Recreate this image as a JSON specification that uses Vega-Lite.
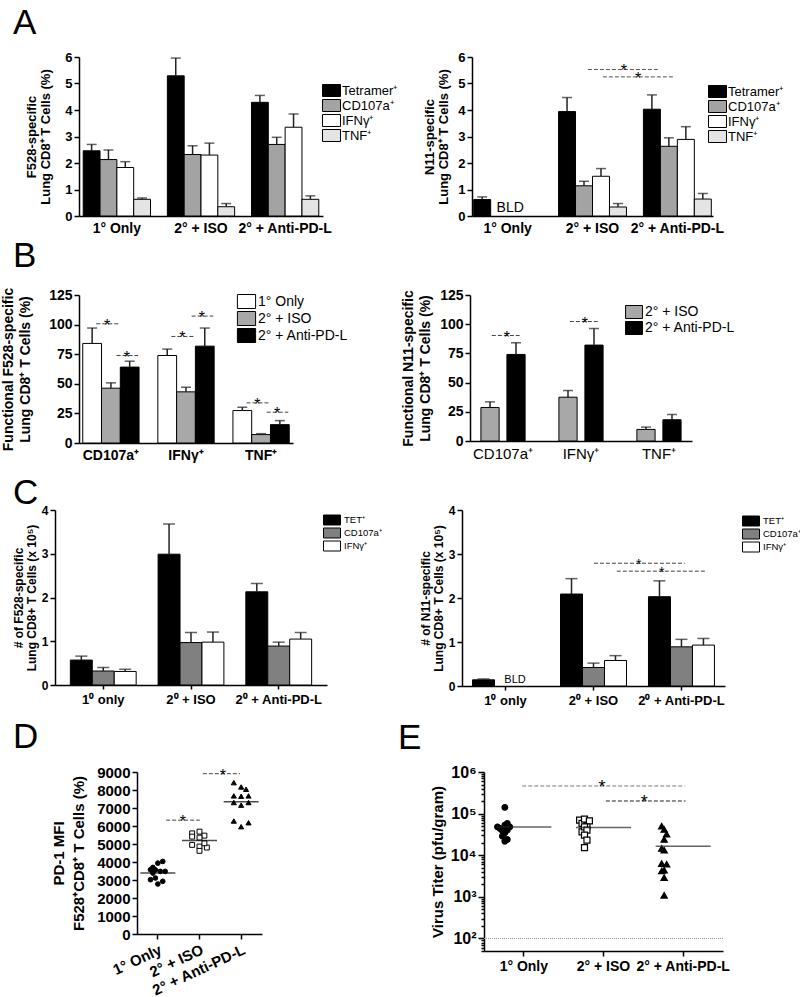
{
  "$schema": "https://vega.github.io/schema/vega-lite/v6.json",
  "background": "white",
  "padding": {"left": 0, "top": 6, "right": 0, "bottom": 0},
  "spacing": 0,
  "resolve": {"scale": {"fill": "independent", "shape": "independent", "size": "independent"}, "legend": {"fill": "independent"}},
  "datasets": {
    "aL": [
      {"group": "1° Only", "series": "Tetramer⁺", "slot": "1° Only|Tetramer⁺", "value": 2.46, "upper": 2.70},
      {"group": "1° Only", "series": "CD107a⁺", "slot": "1° Only|CD107a⁺", "value": 2.13, "upper": 2.49},
      {"group": "1° Only", "series": "IFNγ⁺", "slot": "1° Only|IFNγ⁺", "value": 1.83, "upper": 2.05},
      {"group": "1° Only", "series": "TNF⁺", "slot": "1° Only|TNF⁺", "value": 0.63, "upper": 0.68},
      {"group": "2° + ISO", "series": "Tetramer⁺", "slot": "2° + ISO|Tetramer⁺", "value": 5.29, "upper": 5.96},
      {"group": "2° + ISO", "series": "CD107a⁺", "slot": "2° + ISO|CD107a⁺", "value": 2.32, "upper": 2.65},
      {"group": "2° + ISO", "series": "IFNγ⁺", "slot": "2° + ISO|IFNγ⁺", "value": 2.30, "upper": 2.75},
      {"group": "2° + ISO", "series": "TNF⁺", "slot": "2° + ISO|TNF⁺", "value": 0.35, "upper": 0.47},
      {"group": "2° + Anti-PD-L", "series": "Tetramer⁺", "slot": "2° + Anti-PD-L|Tetramer⁺", "value": 4.29, "upper": 4.55},
      {"group": "2° + Anti-PD-L", "series": "CD107a⁺", "slot": "2° + Anti-PD-L|CD107a⁺", "value": 2.70, "upper": 2.97},
      {"group": "2° + Anti-PD-L", "series": "IFNγ⁺", "slot": "2° + Anti-PD-L|IFNγ⁺", "value": 3.35, "upper": 3.85},
      {"group": "2° + Anti-PD-L", "series": "TNF⁺", "slot": "2° + Anti-PD-L|TNF⁺", "value": 0.63, "upper": 0.76}
    ],
    "aR": [
      {"group": "1° Only", "series": "Tetramer⁺", "slot": "1° Only|Tetramer⁺", "value": 0.62, "upper": 0.72},
      {"group": "2° + ISO", "series": "Tetramer⁺", "slot": "2° + ISO|Tetramer⁺", "value": 3.94, "upper": 4.47},
      {"group": "2° + ISO", "series": "CD107a⁺", "slot": "2° + ISO|CD107a⁺", "value": 1.14, "upper": 1.31},
      {"group": "2° + ISO", "series": "IFNγ⁺", "slot": "2° + ISO|IFNγ⁺", "value": 1.50, "upper": 1.79},
      {"group": "2° + ISO", "series": "TNF⁺", "slot": "2° + ISO|TNF⁺", "value": 0.34, "upper": 0.47},
      {"group": "2° + Anti-PD-L", "series": "Tetramer⁺", "slot": "2° + Anti-PD-L|Tetramer⁺", "value": 4.03, "upper": 4.57},
      {"group": "2° + Anti-PD-L", "series": "CD107a⁺", "slot": "2° + Anti-PD-L|CD107a⁺", "value": 2.63, "upper": 2.95},
      {"group": "2° + Anti-PD-L", "series": "IFNγ⁺", "slot": "2° + Anti-PD-L|IFNγ⁺", "value": 2.89, "upper": 3.37},
      {"group": "2° + Anti-PD-L", "series": "TNF⁺", "slot": "2° + Anti-PD-L|TNF⁺", "value": 0.64, "upper": 0.85}
    ],
    "aRnote": [{"at": "1° Only|IFNγ⁺", "note": "BLD"}],
    "aRsig1": [{"from": "2° + ISO|CD107a⁺", "to": "2° + Anti-PD-L|Tetramer⁺", "at": "2° + ISO|TNF⁺", "level": 5.53, "sig": "*"}],
    "aRsig2": [{"from": "2° + ISO|IFNγ⁺", "to": "2° + Anti-PD-L|CD107a⁺", "at": "gap2", "level": 5.25, "sig": "*"}],
    "bL": [
      {"cat": "CD107a⁺", "group": "1° Only", "slot": "CD107a⁺|1° Only", "value": 84.1, "upper": 97.1},
      {"cat": "CD107a⁺", "group": "2° + ISO", "slot": "CD107a⁺|2° + ISO", "value": 46.3, "upper": 50.8},
      {"cat": "CD107a⁺", "group": "2° + Anti-PD-L", "slot": "CD107a⁺|2° + Anti-PD-L", "value": 64.1, "upper": 69.1},
      {"cat": "IFNγ⁺", "group": "1° Only", "slot": "IFNγ⁺|1° Only", "value": 73.9, "upper": 79.3},
      {"cat": "IFNγ⁺", "group": "2° + ISO", "slot": "IFNγ⁺|2° + ISO", "value": 43.2, "upper": 47.1},
      {"cat": "IFNγ⁺", "group": "2° + Anti-PD-L", "slot": "IFNγ⁺|2° + Anti-PD-L", "value": 81.8, "upper": 97.1},
      {"cat": "TNF⁺", "group": "1° Only", "slot": "TNF⁺|1° Only", "value": 27.4, "upper": 30.2},
      {"cat": "TNF⁺", "group": "2° + ISO", "slot": "TNF⁺|2° + ISO", "value": 7.1, "upper": 7.9},
      {"cat": "TNF⁺", "group": "2° + Anti-PD-L", "slot": "TNF⁺|2° + Anti-PD-L", "value": 15.5, "upper": 18.9}
    ],
    "bLsigA": [
      {"from": "CD107a⁺|1° Only", "to": "CD107a⁺|2° + ISO", "level": 100.7, "sig": "*"},
      {"from": "IFNγ⁺|1° Only", "to": "IFNγ⁺|2° + ISO", "level": 90.0, "sig": "*"},
      {"from": "TNF⁺|1° Only", "to": "TNF⁺|2° + ISO", "level": 33.9, "sig": "*"}
    ],
    "bLsigB": [
      {"from": "CD107a⁺|2° + ISO", "to": "CD107a⁺|2° + Anti-PD-L", "level": 73.9, "sig": "*"},
      {"from": "IFNγ⁺|2° + ISO", "to": "IFNγ⁺|2° + Anti-PD-L", "level": 107.2, "sig": "*"},
      {"from": "TNF⁺|2° + ISO", "to": "TNF⁺|2° + Anti-PD-L", "level": 26.0, "sig": "*"}
    ],
    "bR": [
      {"cat": "CD107a⁺", "group": "2° + ISO", "slot": "CD107a⁺|2° + ISO", "value": 28.7, "upper": 33.5},
      {"cat": "CD107a⁺", "group": "2° + Anti-PD-L", "slot": "CD107a⁺|2° + Anti-PD-L", "value": 74.1, "upper": 84.1},
      {"cat": "IFNγ⁺", "group": "2° + ISO", "slot": "IFNγ⁺|2° + ISO", "value": 37.5, "upper": 43.2},
      {"cat": "IFNγ⁺", "group": "2° + Anti-PD-L", "slot": "IFNγ⁺|2° + Anti-PD-L", "value": 82.1, "upper": 96.3},
      {"cat": "TNF⁺", "group": "2° + ISO", "slot": "TNF⁺|2° + ISO", "value": 9.9, "upper": 11.9},
      {"cat": "TNF⁺", "group": "2° + Anti-PD-L", "slot": "TNF⁺|2° + Anti-PD-L", "value": 18.2, "upper": 22.7}
    ],
    "bRsig": [
      {"from": "CD107a⁺|2° + ISO", "to": "CD107a⁺|2° + Anti-PD-L", "level": 90.3, "sig": "*"},
      {"from": "IFNγ⁺|2° + ISO", "to": "IFNγ⁺|2° + Anti-PD-L", "level": 102.3, "sig": "*"}
    ],
    "cL": [
      {"group": "1⁰ only", "series": "TET⁺", "slot": "1⁰ only|TET⁺", "value": 0.57, "upper": 0.66},
      {"group": "1⁰ only", "series": "CD107a⁺", "slot": "1⁰ only|CD107a⁺", "value": 0.32, "upper": 0.40},
      {"group": "1⁰ only", "series": "IFNγ⁺", "slot": "1⁰ only|IFNγ⁺", "value": 0.31, "upper": 0.36},
      {"group": "2⁰ + ISO", "series": "TET⁺", "slot": "2⁰ + ISO|TET⁺", "value": 2.99, "upper": 3.68},
      {"group": "2⁰ + ISO", "series": "CD107a⁺", "slot": "2⁰ + ISO|CD107a⁺", "value": 0.97, "upper": 1.20},
      {"group": "2⁰ + ISO", "series": "IFNγ⁺", "slot": "2⁰ + ISO|IFNγ⁺", "value": 0.98, "upper": 1.21},
      {"group": "2⁰ + Anti-PD-L", "series": "TET⁺", "slot": "2⁰ + Anti-PD-L|TET⁺", "value": 2.13, "upper": 2.32},
      {"group": "2⁰ + Anti-PD-L", "series": "CD107a⁺", "slot": "2⁰ + Anti-PD-L|CD107a⁺", "value": 0.89, "upper": 0.98},
      {"group": "2⁰ + Anti-PD-L", "series": "IFNγ⁺", "slot": "2⁰ + Anti-PD-L|IFNγ⁺", "value": 1.05, "upper": 1.20}
    ],
    "cR": [
      {"group": "1⁰ only", "series": "TET⁺", "slot": "1⁰ only|TET⁺", "value": 0.14, "upper": 0.16},
      {"group": "2⁰ + ISO", "series": "TET⁺", "slot": "2⁰ + ISO|TET⁺", "value": 2.09, "upper": 2.44},
      {"group": "2⁰ + ISO", "series": "CD107a⁺", "slot": "2⁰ + ISO|CD107a⁺", "value": 0.42, "upper": 0.52},
      {"group": "2⁰ + ISO", "series": "IFNγ⁺", "slot": "2⁰ + ISO|IFNγ⁺", "value": 0.58, "upper": 0.69},
      {"group": "2⁰ + Anti-PD-L", "series": "TET⁺", "slot": "2⁰ + Anti-PD-L|TET⁺", "value": 2.03, "upper": 2.39},
      {"group": "2⁰ + Anti-PD-L", "series": "CD107a⁺", "slot": "2⁰ + Anti-PD-L|CD107a⁺", "value": 0.89, "upper": 1.06},
      {"group": "2⁰ + Anti-PD-L", "series": "IFNγ⁺", "slot": "2⁰ + Anti-PD-L|IFNγ⁺", "value": 0.93, "upper": 1.08}
    ],
    "cRnote": [{"at": "1⁰ only|CD107a⁺", "note": "BLD"}],
    "cRsig1": [{"from": "2⁰ + ISO|CD107a⁺", "to": "2⁰ + Anti-PD-L|CD107a⁺", "at": "gap2", "level": 2.79, "sig": "*"}],
    "cRsig2": [{"from": "2⁰ + ISO|IFNγ⁺", "to": "2⁰ + Anti-PD-L|IFNγ⁺", "at": "2⁰ + Anti-PD-L|TET⁺", "level": 2.61, "sig": "*"}],
    "dP": [
      {"group": "1° Only", "col": 2, "mfi": 4030},
      {"group": "1° Only", "col": 0, "mfi": 3936},
      {"group": "1° Only", "col": -2, "mfi": 3698},
      {"group": "1° Only", "col": -3, "mfi": 3571},
      {"group": "1° Only", "col": -1, "mfi": 3560},
      {"group": "1° Only", "col": 1, "mfi": 3478},
      {"group": "1° Only", "col": 3, "mfi": 3478},
      {"group": "1° Only", "col": -2, "mfi": 3384},
      {"group": "1° Only", "col": -3, "mfi": 3018},
      {"group": "1° Only", "col": -1, "mfi": 3110},
      {"group": "1° Only", "col": 2, "mfi": 2926},
      {"group": "1° Only", "col": 0, "mfi": 2778},
      {"group": "2° + ISO", "col": -3, "mfi": 5592},
      {"group": "2° + ISO", "col": 0, "mfi": 5686},
      {"group": "2° + ISO", "col": 2, "mfi": 5465},
      {"group": "2° + ISO", "col": -3, "mfi": 5410},
      {"group": "2° + ISO", "col": 0, "mfi": 5354},
      {"group": "2° + ISO", "col": -3, "mfi": 4951},
      {"group": "2° + ISO", "col": 0, "mfi": 4858},
      {"group": "2° + ISO", "col": 3, "mfi": 4802},
      {"group": "2° + ISO", "col": 0, "mfi": 4620},
      {"group": "2° + ISO", "col": 2, "mfi": 5040},
      {"group": "2° + Anti-PD-L", "col": -3, "mfi": 8408},
      {"group": "2° + Anti-PD-L", "col": 0, "mfi": 8170},
      {"group": "2° + Anti-PD-L", "col": 2, "mfi": 8040},
      {"group": "2° + Anti-PD-L", "col": -3, "mfi": 7673},
      {"group": "2° + Anti-PD-L", "col": 0, "mfi": 7650},
      {"group": "2° + Anti-PD-L", "col": 3, "mfi": 7673},
      {"group": "2° + Anti-PD-L", "col": -3, "mfi": 7303},
      {"group": "2° + Anti-PD-L", "col": 0, "mfi": 7158},
      {"group": "2° + Anti-PD-L", "col": 3, "mfi": 7303},
      {"group": "2° + Anti-PD-L", "col": -3, "mfi": 6276},
      {"group": "2° + Anti-PD-L", "col": 0, "mfi": 5962},
      {"group": "2° + Anti-PD-L", "col": 3, "mfi": 6182}
    ],
    "dM": [
      {"group": "1° Only", "median": 3386},
      {"group": "2° + ISO", "median": 5189},
      {"group": "2° + Anti-PD-L", "median": 7342}
    ],
    "dSig1": [{"from": "1° Only", "to": "2° + ISO", "level": 6325, "sig": "*"}],
    "dSig2": [{"from": "2° + ISO", "to": "2° + Anti-PD-L", "level": 8906, "sig": "*"}],
    "eP": [
      {"group": "1° Only", "col": 0, "titer": 141000},
      {"group": "1° Only", "col": -3, "titer": 48000},
      {"group": "1° Only", "col": -2, "titer": 44000},
      {"group": "1° Only", "col": -1, "titer": 38500},
      {"group": "1° Only", "col": 0, "titer": 52800},
      {"group": "1° Only", "col": 1, "titer": 58000},
      {"group": "1° Only", "col": 2, "titer": 48000},
      {"group": "1° Only", "col": 0, "titer": 34500},
      {"group": "1° Only", "col": 1, "titer": 40000},
      {"group": "1° Only", "col": -1, "titer": 28700},
      {"group": "1° Only", "col": 0, "titer": 21700},
      {"group": "1° Only", "col": 1, "titer": 23900},
      {"group": "2° + ISO", "col": -2, "titer": 69700},
      {"group": "2° + ISO", "col": -1, "titer": 58000},
      {"group": "2° + ISO", "col": 0, "titer": 73600},
      {"group": "2° + ISO", "col": 1, "titer": 50000},
      {"group": "2° + ISO", "col": 2, "titer": 67100},
      {"group": "2° + ISO", "col": -1, "titer": 36500},
      {"group": "2° + ISO", "col": 0, "titer": 48000},
      {"group": "2° + ISO", "col": 1, "titer": 40000},
      {"group": "2° + ISO", "col": 0, "titer": 30300},
      {"group": "2° + ISO", "col": 1, "titer": 23000},
      {"group": "2° + ISO", "col": 0, "titer": 15300},
      {"group": "2° + Anti-PD-L", "col": -1, "titer": 50000},
      {"group": "2° + Anti-PD-L", "col": 0, "titer": 41600},
      {"group": "2° + Anti-PD-L", "col": 1, "titer": 32000},
      {"group": "2° + Anti-PD-L", "col": 0, "titer": 23900},
      {"group": "2° + Anti-PD-L", "col": -1, "titer": 14500},
      {"group": "2° + Anti-PD-L", "col": 0, "titer": 13200},
      {"group": "2° + Anti-PD-L", "col": -1, "titer": 6300},
      {"group": "2° + Anti-PD-L", "col": 1, "titer": 6070},
      {"group": "2° + Anti-PD-L", "col": -1, "titer": 4190},
      {"group": "2° + Anti-PD-L", "col": 0, "titer": 4350},
      {"group": "2° + Anti-PD-L", "col": 0, "titer": 2900},
      {"group": "2° + Anti-PD-L", "col": 0, "titer": 1090}
    ],
    "eM": [
      {"group": "1° Only", "median": 47900},
      {"group": "2° + ISO", "median": 46100},
      {"group": "2° + Anti-PD-L", "median": 16400}
    ],
    "eLimit": [{"limit": 100}],
    "eSig1": [{"from": "1° Only", "to": "2° + Anti-PD-L", "mid": "2° + ISO", "level": 461000, "sig": "*"}],
    "eSig2": [{"from": "2° + ISO", "to": "2° + Anti-PD-L", "level": 201000, "sig": "*"}]
  },
  "vconcat": [
    {
      "bounds": "flush",
      "spacing": 0,
      "resolve": {"scale": {"fill": "independent"}, "legend": {"fill": "independent"}},
      "hconcat": [
        {"width": 79, "height": 182, "data": {"values": []}, "mark": "point", "encoding": {}},
        {
          "width": 244, "height": 159,
          "title": {"text": "A", "dx": -66, "offset": 10},
          "data": {"name": "aL"},
          "layer": [
            {
              "mark": {"type": "bar", "stroke": "#000", "strokeWidth": 1},
              "encoding": {
                "x": {"field": "slot", "type": "nominal", "title": null, "scale": {"type": "band", "paddingInner": 0, "paddingOuter": 0.25, "domain": ["1° Only|Tetramer⁺", "1° Only|CD107a⁺", "1° Only|IFNγ⁺", "1° Only|TNF⁺", "gap1", "2° + ISO|Tetramer⁺", "2° + ISO|CD107a⁺", "2° + ISO|IFNγ⁺", "2° + ISO|TNF⁺", "gap2", "2° + Anti-PD-L|Tetramer⁺", "2° + Anti-PD-L|CD107a⁺", "2° + Anti-PD-L|IFNγ⁺", "2° + Anti-PD-L|TNF⁺"]}, "axis": {"ticks": false, "labelFontSize": 14, "labelPadding": 5, "labelOffset": 8.4, "labelExpr": "datum.value == '1° Only|CD107a⁺' ? '1° Only' : datum.value == '2° + ISO|CD107a⁺' ? '2° + ISO' : datum.value == '2° + Anti-PD-L|CD107a⁺' ? '2° + Anti-PD-L' : ''"}},
                "y": {"field": "value", "type": "quantitative", "scale": {"domain": [0, 6]}, "axis": {"values": [0, 1, 2, 3, 4, 5, 6], "labelFontSize": 13, "titleFontSize": 13, "titleLineHeight": 14, "titlePadding": 12}, "title": ["F528-specific", "Lung CD8⁺ T Cells (%)"]},
                "fill": {"field": "series", "type": "nominal",
                         "scale": {"domain": ["Tetramer⁺", "CD107a⁺", "IFNγ⁺", "TNF⁺"], "range": ["#000000", "#a3a3a3", "#ffffff", "#e4e4e4"]},
                         "legend": {"orient": "none", "legendX": 246, "legendY": 27, "title": null, "symbolType": "M-1.5,-1H1.5V1H-1.5Z", "symbolSize": 144, "symbolStrokeColor": "#000", "symbolStrokeWidth": 1, "labelFontSize": 13, "labelOffset": 4, "rowPadding": -2.5}}
              }
            },
            {
              "mark": {"type": "rule", "color": "#222", "strokeWidth": 1.5},
              "encoding": {
                "x": {"field": "slot", "type": "nominal", "title": null, "scale": {"type": "band", "paddingInner": 0, "paddingOuter": 0.25, "domain": ["1° Only|Tetramer⁺", "1° Only|CD107a⁺", "1° Only|IFNγ⁺", "1° Only|TNF⁺", "gap1", "2° + ISO|Tetramer⁺", "2° + ISO|CD107a⁺", "2° + ISO|IFNγ⁺", "2° + ISO|TNF⁺", "gap2", "2° + Anti-PD-L|Tetramer⁺", "2° + Anti-PD-L|CD107a⁺", "2° + Anti-PD-L|IFNγ⁺", "2° + Anti-PD-L|TNF⁺"]}, "axis": {"ticks": false, "labelFontSize": 14, "labelPadding": 5, "labelOffset": 8.4, "labelExpr": "datum.value == '1° Only|CD107a⁺' ? '1° Only' : datum.value == '2° + ISO|CD107a⁺' ? '2° + ISO' : datum.value == '2° + Anti-PD-L|CD107a⁺' ? '2° + Anti-PD-L' : ''"}},
                "y": {"field": "value", "type": "quantitative", "scale": {"domain": [0, 6]}, "axis": {"values": [0, 1, 2, 3, 4, 5, 6], "labelFontSize": 13, "titleFontSize": 13, "titleLineHeight": 14, "titlePadding": 12}, "title": ["F528-specific", "Lung CD8⁺ T Cells (%)"]},
                "y2": {"field": "upper"}
              }
            },
            {
              "mark": {"type": "tick", "orient": "horizontal", "size": 10, "thickness": 1.5, "color": "#222"},
              "encoding": {
                "x": {"field": "slot", "type": "nominal", "title": null, "scale": {"type": "band", "paddingInner": 0, "paddingOuter": 0.25, "domain": ["1° Only|Tetramer⁺", "1° Only|CD107a⁺", "1° Only|IFNγ⁺", "1° Only|TNF⁺", "gap1", "2° + ISO|Tetramer⁺", "2° + ISO|CD107a⁺", "2° + ISO|IFNγ⁺", "2° + ISO|TNF⁺", "gap2", "2° + Anti-PD-L|Tetramer⁺", "2° + Anti-PD-L|CD107a⁺", "2° + Anti-PD-L|IFNγ⁺", "2° + Anti-PD-L|TNF⁺"]}, "axis": {"ticks": false, "labelFontSize": 14, "labelPadding": 5, "labelOffset": 8.4, "labelExpr": "datum.value == '1° Only|CD107a⁺' ? '1° Only' : datum.value == '2° + ISO|CD107a⁺' ? '2° + ISO' : datum.value == '2° + Anti-PD-L|CD107a⁺' ? '2° + Anti-PD-L' : ''"}},
                "y": {"field": "upper", "type": "quantitative", "scale": {"domain": [0, 6]}, "axis": {"values": [0, 1, 2, 3, 4, 5, 6], "labelFontSize": 13, "titleFontSize": 13, "titleLineHeight": 14, "titlePadding": 12}, "title": ["F528-specific", "Lung CD8⁺ T Cells (%)"]}
              }
            }
          ]
        },
        {"width": 149, "height": 1, "data": {"values": []}, "mark": "point", "encoding": {}},
        {
          "width": 241, "height": 159,
          "data": {"name": "aR"},
          "layer": [
            {
              "mark": {"type": "bar", "stroke": "#000", "strokeWidth": 1},
              "encoding": {
                "x": {"field": "slot", "type": "nominal", "title": null, "scale": {"type": "band", "paddingInner": 0, "paddingOuter": 0.1, "domain": ["1° Only|Tetramer⁺", "1° Only|CD107a⁺", "1° Only|IFNγ⁺", "1° Only|TNF⁺", "gap1", "2° + ISO|Tetramer⁺", "2° + ISO|CD107a⁺", "2° + ISO|IFNγ⁺", "2° + ISO|TNF⁺", "gap2", "2° + Anti-PD-L|Tetramer⁺", "2° + Anti-PD-L|CD107a⁺", "2° + Anti-PD-L|IFNγ⁺", "2° + Anti-PD-L|TNF⁺"]}, "axis": {"ticks": false, "labelFontSize": 14, "labelPadding": 5, "labelOffset": 8.5, "labelExpr": "datum.value == '1° Only|CD107a⁺' ? '1° Only' : datum.value == '2° + ISO|CD107a⁺' ? '2° + ISO' : datum.value == '2° + Anti-PD-L|CD107a⁺' ? '2° + Anti-PD-L' : ''"}},
                "y": {"field": "value", "type": "quantitative", "scale": {"domain": [0, 6]}, "axis": {"values": [0, 1, 2, 3, 4, 5, 6], "labelFontSize": 13, "titleFontSize": 13, "titleLineHeight": 14, "titlePadding": 7}, "title": ["N11-specific", "Lung CD8⁺ T Cells (%)"]},
                "fill": {"field": "series", "type": "nominal",
                         "scale": {"domain": ["Tetramer⁺", "CD107a⁺", "IFNγ⁺", "TNF⁺"], "range": ["#000000", "#a3a3a3", "#ffffff", "#e4e4e4"]},
                         "legend": {"orient": "none", "legendX": 239, "legendY": 28, "title": null, "symbolType": "M-1.5,-1H1.5V1H-1.5Z", "symbolSize": 144, "symbolStrokeColor": "#000", "symbolStrokeWidth": 1, "labelFontSize": 13, "labelOffset": 4, "rowPadding": -2.5}}
              }
            },
            {
              "mark": {"type": "rule", "color": "#222", "strokeWidth": 1.5},
              "encoding": {
                "x": {"field": "slot", "type": "nominal", "title": null, "scale": {"type": "band", "paddingInner": 0, "paddingOuter": 0.1, "domain": ["1° Only|Tetramer⁺", "1° Only|CD107a⁺", "1° Only|IFNγ⁺", "1° Only|TNF⁺", "gap1", "2° + ISO|Tetramer⁺", "2° + ISO|CD107a⁺", "2° + ISO|IFNγ⁺", "2° + ISO|TNF⁺", "gap2", "2° + Anti-PD-L|Tetramer⁺", "2° + Anti-PD-L|CD107a⁺", "2° + Anti-PD-L|IFNγ⁺", "2° + Anti-PD-L|TNF⁺"]}, "axis": {"ticks": false, "labelFontSize": 14, "labelPadding": 5, "labelOffset": 8.5, "labelExpr": "datum.value == '1° Only|CD107a⁺' ? '1° Only' : datum.value == '2° + ISO|CD107a⁺' ? '2° + ISO' : datum.value == '2° + Anti-PD-L|CD107a⁺' ? '2° + Anti-PD-L' : ''"}},
                "y": {"field": "value", "type": "quantitative", "scale": {"domain": [0, 6]}, "axis": {"values": [0, 1, 2, 3, 4, 5, 6], "labelFontSize": 13, "titleFontSize": 13, "titleLineHeight": 14, "titlePadding": 7}, "title": ["N11-specific", "Lung CD8⁺ T Cells (%)"]},
                "y2": {"field": "upper"}
              }
            },
            {
              "mark": {"type": "tick", "orient": "horizontal", "size": 10, "thickness": 1.5, "color": "#222"},
              "encoding": {
                "x": {"field": "slot", "type": "nominal", "title": null, "scale": {"type": "band", "paddingInner": 0, "paddingOuter": 0.1, "domain": ["1° Only|Tetramer⁺", "1° Only|CD107a⁺", "1° Only|IFNγ⁺", "1° Only|TNF⁺", "gap1", "2° + ISO|Tetramer⁺", "2° + ISO|CD107a⁺", "2° + ISO|IFNγ⁺", "2° + ISO|TNF⁺", "gap2", "2° + Anti-PD-L|Tetramer⁺", "2° + Anti-PD-L|CD107a⁺", "2° + Anti-PD-L|IFNγ⁺", "2° + Anti-PD-L|TNF⁺"]}, "axis": {"ticks": false, "labelFontSize": 14, "labelPadding": 5, "labelOffset": 8.5, "labelExpr": "datum.value == '1° Only|CD107a⁺' ? '1° Only' : datum.value == '2° + ISO|CD107a⁺' ? '2° + ISO' : datum.value == '2° + Anti-PD-L|CD107a⁺' ? '2° + Anti-PD-L' : ''"}},
                "y": {"field": "upper", "type": "quantitative", "scale": {"domain": [0, 6]}, "axis": {"values": [0, 1, 2, 3, 4, 5, 6], "labelFontSize": 13, "titleFontSize": 13, "titleLineHeight": 14, "titlePadding": 7}, "title": ["N11-specific", "Lung CD8⁺ T Cells (%)"]}
              }
            },
            {
              "data": {"name": "aRnote"},
              "mark": {"type": "text", "fontSize": 14, "baseline": "bottom", "dy": -1, "color": "#000"},
              "encoding": {
                "x": {"field": "at", "type": "nominal", "bandPosition": 0.15, "title": null, "scale": {"type": "band", "paddingInner": 0, "paddingOuter": 0.1, "domain": ["1° Only|Tetramer⁺", "1° Only|CD107a⁺", "1° Only|IFNγ⁺", "1° Only|TNF⁺", "gap1", "2° + ISO|Tetramer⁺", "2° + ISO|CD107a⁺", "2° + ISO|IFNγ⁺", "2° + ISO|TNF⁺", "gap2", "2° + Anti-PD-L|Tetramer⁺", "2° + Anti-PD-L|CD107a⁺", "2° + Anti-PD-L|IFNγ⁺", "2° + Anti-PD-L|TNF⁺"]}, "axis": {"ticks": false, "labelFontSize": 14, "labelPadding": 5, "labelOffset": 8.5, "labelExpr": "datum.value == '1° Only|CD107a⁺' ? '1° Only' : datum.value == '2° + ISO|CD107a⁺' ? '2° + ISO' : datum.value == '2° + Anti-PD-L|CD107a⁺' ? '2° + Anti-PD-L' : ''"}},
                "y": {"datum": 0, "type": "quantitative", "scale": {"domain": [0, 6]}, "axis": {"values": [0, 1, 2, 3, 4, 5, 6], "labelFontSize": 13, "titleFontSize": 13, "titleLineHeight": 14, "titlePadding": 7}, "title": ["N11-specific", "Lung CD8⁺ T Cells (%)"]},
                "text": {"field": "note"}
              }
            },
            {
              "data": {"name": "aRsig1"},
              "mark": {"type": "rule", "strokeDash": [4, 2], "color": "#555", "strokeWidth": 1},
              "encoding": {
                "x": {"field": "from", "type": "nominal", "bandPosition": 0.73, "title": null, "scale": {"type": "band", "paddingInner": 0, "paddingOuter": 0.1, "domain": ["1° Only|Tetramer⁺", "1° Only|CD107a⁺", "1° Only|IFNγ⁺", "1° Only|TNF⁺", "gap1", "2° + ISO|Tetramer⁺", "2° + ISO|CD107a⁺", "2° + ISO|IFNγ⁺", "2° + ISO|TNF⁺", "gap2", "2° + Anti-PD-L|Tetramer⁺", "2° + Anti-PD-L|CD107a⁺", "2° + Anti-PD-L|IFNγ⁺", "2° + Anti-PD-L|TNF⁺"]}, "axis": {"ticks": false, "labelFontSize": 14, "labelPadding": 5, "labelOffset": 8.5, "labelExpr": "datum.value == '1° Only|CD107a⁺' ? '1° Only' : datum.value == '2° + ISO|CD107a⁺' ? '2° + ISO' : datum.value == '2° + Anti-PD-L|CD107a⁺' ? '2° + Anti-PD-L' : ''"}},
                "x2": {"field": "to", "bandPosition": 0.85},
                "y": {"field": "level", "type": "quantitative", "scale": {"domain": [0, 6]}, "axis": {"values": [0, 1, 2, 3, 4, 5, 6], "labelFontSize": 13, "titleFontSize": 13, "titleLineHeight": 14, "titlePadding": 7}, "title": ["N11-specific", "Lung CD8⁺ T Cells (%)"]}
              }
            },
            {
              "data": {"name": "aRsig1"},
              "mark": {"type": "text", "fontSize": 16, "baseline": "middle", "dy": 2, "color": "#000"},
              "encoding": {
                "x": {"field": "at", "type": "nominal", "bandPosition": 0.85, "title": null, "scale": {"type": "band", "paddingInner": 0, "paddingOuter": 0.1, "domain": ["1° Only|Tetramer⁺", "1° Only|CD107a⁺", "1° Only|IFNγ⁺", "1° Only|TNF⁺", "gap1", "2° + ISO|Tetramer⁺", "2° + ISO|CD107a⁺", "2° + ISO|IFNγ⁺", "2° + ISO|TNF⁺", "gap2", "2° + Anti-PD-L|Tetramer⁺", "2° + Anti-PD-L|CD107a⁺", "2° + Anti-PD-L|IFNγ⁺", "2° + Anti-PD-L|TNF⁺"]}, "axis": {"ticks": false, "labelFontSize": 14, "labelPadding": 5, "labelOffset": 8.5, "labelExpr": "datum.value == '1° Only|CD107a⁺' ? '1° Only' : datum.value == '2° + ISO|CD107a⁺' ? '2° + ISO' : datum.value == '2° + Anti-PD-L|CD107a⁺' ? '2° + Anti-PD-L' : ''"}},
                "y": {"field": "level", "type": "quantitative", "scale": {"domain": [0, 6]}, "axis": {"values": [0, 1, 2, 3, 4, 5, 6], "labelFontSize": 13, "titleFontSize": 13, "titleLineHeight": 14, "titlePadding": 7}, "title": ["N11-specific", "Lung CD8⁺ T Cells (%)"]},
                "text": {"field": "sig"}
              }
            },
            {
              "data": {"name": "aRsig2"},
              "mark": {"type": "rule", "strokeDash": [4, 2], "color": "#555", "strokeWidth": 1},
              "encoding": {
                "x": {"field": "from", "type": "nominal", "bandPosition": 0.61, "title": null, "scale": {"type": "band", "paddingInner": 0, "paddingOuter": 0.1, "domain": ["1° Only|Tetramer⁺", "1° Only|CD107a⁺", "1° Only|IFNγ⁺", "1° Only|TNF⁺", "gap1", "2° + ISO|Tetramer⁺", "2° + ISO|CD107a⁺", "2° + ISO|IFNγ⁺", "2° + ISO|TNF⁺", "gap2", "2° + Anti-PD-L|Tetramer⁺", "2° + Anti-PD-L|CD107a⁺", "2° + Anti-PD-L|IFNγ⁺", "2° + Anti-PD-L|TNF⁺"]}, "axis": {"ticks": false, "labelFontSize": 14, "labelPadding": 5, "labelOffset": 8.5, "labelExpr": "datum.value == '1° Only|CD107a⁺' ? '1° Only' : datum.value == '2° + ISO|CD107a⁺' ? '2° + ISO' : datum.value == '2° + Anti-PD-L|CD107a⁺' ? '2° + Anti-PD-L' : ''"}},
                "x2": {"field": "to", "bandPosition": 0.74},
                "y": {"field": "level", "type": "quantitative", "scale": {"domain": [0, 6]}, "axis": {"values": [0, 1, 2, 3, 4, 5, 6], "labelFontSize": 13, "titleFontSize": 13, "titleLineHeight": 14, "titlePadding": 7}, "title": ["N11-specific", "Lung CD8⁺ T Cells (%)"]}
              }
            },
            {
              "data": {"name": "aRsig2"},
              "mark": {"type": "text", "fontSize": 16, "baseline": "middle", "dy": 2, "color": "#000"},
              "encoding": {
                "x": {"field": "at", "type": "nominal", "bandPosition": 0.68, "title": null, "scale": {"type": "band", "paddingInner": 0, "paddingOuter": 0.1, "domain": ["1° Only|Tetramer⁺", "1° Only|CD107a⁺", "1° Only|IFNγ⁺", "1° Only|TNF⁺", "gap1", "2° + ISO|Tetramer⁺", "2° + ISO|CD107a⁺", "2° + ISO|IFNγ⁺", "2° + ISO|TNF⁺", "gap2", "2° + Anti-PD-L|Tetramer⁺", "2° + Anti-PD-L|CD107a⁺", "2° + Anti-PD-L|IFNγ⁺", "2° + Anti-PD-L|TNF⁺"]}, "axis": {"ticks": false, "labelFontSize": 14, "labelPadding": 5, "labelOffset": 8.5, "labelExpr": "datum.value == '1° Only|CD107a⁺' ? '1° Only' : datum.value == '2° + ISO|CD107a⁺' ? '2° + ISO' : datum.value == '2° + Anti-PD-L|CD107a⁺' ? '2° + Anti-PD-L' : ''"}},
                "y": {"field": "level", "type": "quantitative", "scale": {"domain": [0, 6]}, "axis": {"values": [0, 1, 2, 3, 4, 5, 6], "labelFontSize": 13, "titleFontSize": 13, "titleLineHeight": 14, "titlePadding": 7}, "title": ["N11-specific", "Lung CD8⁺ T Cells (%)"]},
                "text": {"field": "sig"}
              }
            }
          ]
        }
      ]
    },
    {
      "bounds": "flush",
      "spacing": 0,
      "resolve": {"scale": {"fill": "independent"}, "legend": {"fill": "independent"}},
      "hconcat": [
        {"width": 79, "height": 181, "data": {"values": []}, "mark": "point", "encoding": {}},
        {
          "width": 214, "height": 148,
          "title": {"text": "B", "dx": -66, "offset": 11},
          "data": {"name": "bL"},
          "layer": [
            {
              "mark": {"type": "bar", "stroke": "#000", "strokeWidth": 1},
              "encoding": {
                "x": {"field": "slot", "type": "nominal", "title": null, "scale": {"type": "band", "paddingInner": 0, "paddingOuter": 0.2, "domain": ["CD107a⁺|1° Only", "CD107a⁺|2° + ISO", "CD107a⁺|2° + Anti-PD-L", "gap1", "IFNγ⁺|1° Only", "IFNγ⁺|2° + ISO", "IFNγ⁺|2° + Anti-PD-L", "gap2", "TNF⁺|1° Only", "TNF⁺|2° + ISO", "TNF⁺|2° + Anti-PD-L"]}, "axis": {"ticks": false, "labelFontSize": 14, "labelPadding": 5, "labelExpr": "datum.value == 'CD107a⁺|2° + ISO' ? 'CD107a⁺' : datum.value == 'IFNγ⁺|2° + ISO' ? 'IFNγ⁺' : datum.value == 'TNF⁺|2° + ISO' ? 'TNF⁺' : ''"}},
                "y": {"field": "value", "type": "quantitative", "scale": {"domain": [0, 125]}, "axis": {"values": [0, 25, 50, 75, 100, 125], "labelFontSize": 14, "titleFontSize": 14, "titleLineHeight": 17, "titlePadding": 16}, "title": ["Functional  F528-specific", "Lung CD8⁺ T Cells (%)"]},
                "fill": {"field": "group", "type": "nominal",
                         "scale": {"domain": ["1° Only", "2° + ISO", "2° + Anti-PD-L"], "range": ["#ffffff", "#a8a8a8", "#000000"]},
                         "legend": {"orient": "none", "legendX": 160, "legendY": -1, "title": null, "symbolType": "M-1.3,-1H1.3V1H-1.3Z", "symbolSize": 196, "symbolStrokeColor": "#000", "symbolStrokeWidth": 1, "labelFontSize": 14, "labelOffset": 4, "rowPadding": -4.5}}
              }
            },
            {
              "mark": {"type": "rule", "color": "#222", "strokeWidth": 1.5},
              "encoding": {
                "x": {"field": "slot", "type": "nominal", "title": null, "scale": {"type": "band", "paddingInner": 0, "paddingOuter": 0.2, "domain": ["CD107a⁺|1° Only", "CD107a⁺|2° + ISO", "CD107a⁺|2° + Anti-PD-L", "gap1", "IFNγ⁺|1° Only", "IFNγ⁺|2° + ISO", "IFNγ⁺|2° + Anti-PD-L", "gap2", "TNF⁺|1° Only", "TNF⁺|2° + ISO", "TNF⁺|2° + Anti-PD-L"]}, "axis": {"ticks": false, "labelFontSize": 14, "labelPadding": 5, "labelExpr": "datum.value == 'CD107a⁺|2° + ISO' ? 'CD107a⁺' : datum.value == 'IFNγ⁺|2° + ISO' ? 'IFNγ⁺' : datum.value == 'TNF⁺|2° + ISO' ? 'TNF⁺' : ''"}},
                "y": {"field": "value", "type": "quantitative", "scale": {"domain": [0, 125]}, "axis": {"values": [0, 25, 50, 75, 100, 125], "labelFontSize": 14, "titleFontSize": 14, "titleLineHeight": 17, "titlePadding": 16}, "title": ["Functional  F528-specific", "Lung CD8⁺ T Cells (%)"]},
                "y2": {"field": "upper"}
              }
            },
            {
              "mark": {"type": "tick", "orient": "horizontal", "size": 10, "thickness": 1.5, "color": "#222"},
              "encoding": {
                "x": {"field": "slot", "type": "nominal", "title": null, "scale": {"type": "band", "paddingInner": 0, "paddingOuter": 0.2, "domain": ["CD107a⁺|1° Only", "CD107a⁺|2° + ISO", "CD107a⁺|2° + Anti-PD-L", "gap1", "IFNγ⁺|1° Only", "IFNγ⁺|2° + ISO", "IFNγ⁺|2° + Anti-PD-L", "gap2", "TNF⁺|1° Only", "TNF⁺|2° + ISO", "TNF⁺|2° + Anti-PD-L"]}, "axis": {"ticks": false, "labelFontSize": 14, "labelPadding": 5, "labelExpr": "datum.value == 'CD107a⁺|2° + ISO' ? 'CD107a⁺' : datum.value == 'IFNγ⁺|2° + ISO' ? 'IFNγ⁺' : datum.value == 'TNF⁺|2° + ISO' ? 'TNF⁺' : ''"}},
                "y": {"field": "upper", "type": "quantitative", "scale": {"domain": [0, 125]}, "axis": {"values": [0, 25, 50, 75, 100, 125], "labelFontSize": 14, "titleFontSize": 14, "titleLineHeight": 17, "titlePadding": 16}, "title": ["Functional  F528-specific", "Lung CD8⁺ T Cells (%)"]}
              }
            },
            {
              "data": {"name": "bLsigA"},
              "mark": {"type": "rule", "strokeDash": [4, 2], "color": "#444", "strokeWidth": 1},
              "encoding": {
                "x": {"field": "from", "type": "nominal", "bandPosition": 0.72, "title": null, "scale": {"type": "band", "paddingInner": 0, "paddingOuter": 0.2, "domain": ["CD107a⁺|1° Only", "CD107a⁺|2° + ISO", "CD107a⁺|2° + Anti-PD-L", "gap1", "IFNγ⁺|1° Only", "IFNγ⁺|2° + ISO", "IFNγ⁺|2° + Anti-PD-L", "gap2", "TNF⁺|1° Only", "TNF⁺|2° + ISO", "TNF⁺|2° + Anti-PD-L"]}, "axis": {"ticks": false, "labelFontSize": 14, "labelPadding": 5, "labelExpr": "datum.value == 'CD107a⁺|2° + ISO' ? 'CD107a⁺' : datum.value == 'IFNγ⁺|2° + ISO' ? 'IFNγ⁺' : datum.value == 'TNF⁺|2° + ISO' ? 'TNF⁺' : ''"}},
                "x2": {"field": "to", "bandPosition": 0.9},
                "y": {"field": "level", "type": "quantitative", "scale": {"domain": [0, 125]}, "axis": {"values": [0, 25, 50, 75, 100, 125], "labelFontSize": 14, "titleFontSize": 14, "titleLineHeight": 17, "titlePadding": 16}, "title": ["Functional  F528-specific", "Lung CD8⁺ T Cells (%)"]}
              }
            },
            {
              "data": {"name": "bLsigA"},
              "mark": {"type": "text", "fontSize": 16, "baseline": "middle", "dy": 2, "color": "#000"},
              "encoding": {
                "x": {"field": "to", "type": "nominal", "bandPosition": 0.3, "title": null, "scale": {"type": "band", "paddingInner": 0, "paddingOuter": 0.2, "domain": ["CD107a⁺|1° Only", "CD107a⁺|2° + ISO", "CD107a⁺|2° + Anti-PD-L", "gap1", "IFNγ⁺|1° Only", "IFNγ⁺|2° + ISO", "IFNγ⁺|2° + Anti-PD-L", "gap2", "TNF⁺|1° Only", "TNF⁺|2° + ISO", "TNF⁺|2° + Anti-PD-L"]}, "axis": {"ticks": false, "labelFontSize": 14, "labelPadding": 5, "labelExpr": "datum.value == 'CD107a⁺|2° + ISO' ? 'CD107a⁺' : datum.value == 'IFNγ⁺|2° + ISO' ? 'IFNγ⁺' : datum.value == 'TNF⁺|2° + ISO' ? 'TNF⁺' : ''"}},
                "y": {"field": "level", "type": "quantitative", "scale": {"domain": [0, 125]}, "axis": {"values": [0, 25, 50, 75, 100, 125], "labelFontSize": 14, "titleFontSize": 14, "titleLineHeight": 17, "titlePadding": 16}, "title": ["Functional  F528-specific", "Lung CD8⁺ T Cells (%)"]},
                "text": {"field": "sig"}
              }
            },
            {
              "data": {"name": "bLsigB"},
              "mark": {"type": "rule", "strokeDash": [4, 2], "color": "#444", "strokeWidth": 1},
              "encoding": {
                "x": {"field": "from", "type": "nominal", "bandPosition": 0.8, "title": null, "scale": {"type": "band", "paddingInner": 0, "paddingOuter": 0.2, "domain": ["CD107a⁺|1° Only", "CD107a⁺|2° + ISO", "CD107a⁺|2° + Anti-PD-L", "gap1", "IFNγ⁺|1° Only", "IFNγ⁺|2° + ISO", "IFNγ⁺|2° + Anti-PD-L", "gap2", "TNF⁺|1° Only", "TNF⁺|2° + ISO", "TNF⁺|2° + Anti-PD-L"]}, "axis": {"ticks": false, "labelFontSize": 14, "labelPadding": 5, "labelExpr": "datum.value == 'CD107a⁺|2° + ISO' ? 'CD107a⁺' : datum.value == 'IFNγ⁺|2° + ISO' ? 'IFNγ⁺' : datum.value == 'TNF⁺|2° + ISO' ? 'TNF⁺' : ''"}},
                "x2": {"field": "to", "bandPosition": 0.95},
                "y": {"field": "level", "type": "quantitative", "scale": {"domain": [0, 125]}, "axis": {"values": [0, 25, 50, 75, 100, 125], "labelFontSize": 14, "titleFontSize": 14, "titleLineHeight": 17, "titlePadding": 16}, "title": ["Functional  F528-specific", "Lung CD8⁺ T Cells (%)"]}
              }
            },
            {
              "data": {"name": "bLsigB"},
              "mark": {"type": "text", "fontSize": 16, "baseline": "middle", "dy": 2, "color": "#000"},
              "encoding": {
                "x": {"field": "to", "type": "nominal", "bandPosition": 0.35, "title": null, "scale": {"type": "band", "paddingInner": 0, "paddingOuter": 0.2, "domain": ["CD107a⁺|1° Only", "CD107a⁺|2° + ISO", "CD107a⁺|2° + Anti-PD-L", "gap1", "IFNγ⁺|1° Only", "IFNγ⁺|2° + ISO", "IFNγ⁺|2° + Anti-PD-L", "gap2", "TNF⁺|1° Only", "TNF⁺|2° + ISO", "TNF⁺|2° + Anti-PD-L"]}, "axis": {"ticks": false, "labelFontSize": 14, "labelPadding": 5, "labelExpr": "datum.value == 'CD107a⁺|2° + ISO' ? 'CD107a⁺' : datum.value == 'IFNγ⁺|2° + ISO' ? 'IFNγ⁺' : datum.value == 'TNF⁺|2° + ISO' ? 'TNF⁺' : ''"}},
                "y": {"field": "level", "type": "quantitative", "scale": {"domain": [0, 125]}, "axis": {"values": [0, 25, 50, 75, 100, 125], "labelFontSize": 14, "titleFontSize": 14, "titleLineHeight": 17, "titlePadding": 16}, "title": ["Functional  F528-specific", "Lung CD8⁺ T Cells (%)"]},
                "text": {"field": "sig"}
              }
            }
          ]
        },
        {"width": 177, "height": 1, "data": {"values": []}, "mark": "point", "encoding": {}},
        {
          "width": 222, "height": 146,
          "data": {"name": "bR"},
          "layer": [
            {
              "mark": {"type": "bar", "stroke": "#000", "strokeWidth": 1},
              "encoding": {
                "x": {"field": "slot", "type": "nominal", "title": null, "scale": {"type": "band", "paddingInner": 0.3, "paddingOuter": 0.42, "domain": ["CD107a⁺|2° + ISO", "CD107a⁺|2° + Anti-PD-L", "gap1", "IFNγ⁺|2° + ISO", "IFNγ⁺|2° + Anti-PD-L", "gap2", "TNF⁺|2° + ISO", "TNF⁺|2° + Anti-PD-L"]}, "axis": {"ticks": false, "labelFontSize": 15, "labelFontWeight": "normal", "labelPadding": 5, "labelOffset": 13, "labelExpr": "datum.value == 'CD107a⁺|2° + ISO' ? 'CD107a⁺' : datum.value == 'IFNγ⁺|2° + ISO' ? 'IFNγ⁺' : datum.value == 'TNF⁺|2° + ISO' ? 'TNF⁺' : ''"}},
                "y": {"field": "value", "type": "quantitative", "scale": {"domain": [0, 125]}, "axis": {"values": [0, 25, 50, 75, 100, 125], "labelFontSize": 14, "titleFontSize": 14, "titleLineHeight": 17, "titlePadding": 7}, "title": ["Functional  N11-specific", "Lung CD8⁺ T Cells (%)"]},
                "fill": {"field": "group", "type": "nominal",
                         "scale": {"domain": ["2° + ISO", "2° + Anti-PD-L"], "range": ["#a8a8a8", "#000000"]},
                         "legend": {"orient": "none", "legendX": 157, "legendY": 10, "title": null, "symbolType": "M-1.3,-1H1.3V1H-1.3Z", "symbolSize": 169, "symbolStrokeColor": "#000", "symbolStrokeWidth": 1, "labelFontSize": 14, "labelOffset": 4, "rowPadding": -4.5}}
              }
            },
            {
              "mark": {"type": "rule", "color": "#222", "strokeWidth": 1.5},
              "encoding": {
                "x": {"field": "slot", "type": "nominal", "title": null, "scale": {"type": "band", "paddingInner": 0.3, "paddingOuter": 0.42, "domain": ["CD107a⁺|2° + ISO", "CD107a⁺|2° + Anti-PD-L", "gap1", "IFNγ⁺|2° + ISO", "IFNγ⁺|2° + Anti-PD-L", "gap2", "TNF⁺|2° + ISO", "TNF⁺|2° + Anti-PD-L"]}, "axis": {"ticks": false, "labelFontSize": 15, "labelFontWeight": "normal", "labelPadding": 5, "labelOffset": 13, "labelExpr": "datum.value == 'CD107a⁺|2° + ISO' ? 'CD107a⁺' : datum.value == 'IFNγ⁺|2° + ISO' ? 'IFNγ⁺' : datum.value == 'TNF⁺|2° + ISO' ? 'TNF⁺' : ''"}},
                "y": {"field": "value", "type": "quantitative", "scale": {"domain": [0, 125]}, "axis": {"values": [0, 25, 50, 75, 100, 125], "labelFontSize": 14, "titleFontSize": 14, "titleLineHeight": 17, "titlePadding": 7}, "title": ["Functional  N11-specific", "Lung CD8⁺ T Cells (%)"]},
                "y2": {"field": "upper"}
              }
            },
            {
              "mark": {"type": "tick", "orient": "horizontal", "size": 10, "thickness": 1.5, "color": "#222"},
              "encoding": {
                "x": {"field": "slot", "type": "nominal", "title": null, "scale": {"type": "band", "paddingInner": 0.3, "paddingOuter": 0.42, "domain": ["CD107a⁺|2° + ISO", "CD107a⁺|2° + Anti-PD-L", "gap1", "IFNγ⁺|2° + ISO", "IFNγ⁺|2° + Anti-PD-L", "gap2", "TNF⁺|2° + ISO", "TNF⁺|2° + Anti-PD-L"]}, "axis": {"ticks": false, "labelFontSize": 15, "labelFontWeight": "normal", "labelPadding": 5, "labelOffset": 13, "labelExpr": "datum.value == 'CD107a⁺|2° + ISO' ? 'CD107a⁺' : datum.value == 'IFNγ⁺|2° + ISO' ? 'IFNγ⁺' : datum.value == 'TNF⁺|2° + ISO' ? 'TNF⁺' : ''"}},
                "y": {"field": "upper", "type": "quantitative", "scale": {"domain": [0, 125]}, "axis": {"values": [0, 25, 50, 75, 100, 125], "labelFontSize": 14, "titleFontSize": 14, "titleLineHeight": 17, "titlePadding": 7}, "title": ["Functional  N11-specific", "Lung CD8⁺ T Cells (%)"]}
              }
            },
            {
              "data": {"name": "bRsig"},
              "mark": {"type": "rule", "strokeDash": [4, 2], "color": "#444", "strokeWidth": 1},
              "encoding": {
                "x": {"field": "from", "type": "nominal", "bandPosition": 0.6, "title": null, "scale": {"type": "band", "paddingInner": 0.3, "paddingOuter": 0.42, "domain": ["CD107a⁺|2° + ISO", "CD107a⁺|2° + Anti-PD-L", "gap1", "IFNγ⁺|2° + ISO", "IFNγ⁺|2° + Anti-PD-L", "gap2", "TNF⁺|2° + ISO", "TNF⁺|2° + Anti-PD-L"]}, "axis": {"ticks": false, "labelFontSize": 15, "labelFontWeight": "normal", "labelPadding": 5, "labelOffset": 13, "labelExpr": "datum.value == 'CD107a⁺|2° + ISO' ? 'CD107a⁺' : datum.value == 'IFNγ⁺|2° + ISO' ? 'IFNγ⁺' : datum.value == 'TNF⁺|2° + ISO' ? 'TNF⁺' : ''"}},
                "x2": {"field": "to", "bandPosition": 0.7},
                "y": {"field": "level", "type": "quantitative", "scale": {"domain": [0, 125]}, "axis": {"values": [0, 25, 50, 75, 100, 125], "labelFontSize": 14, "titleFontSize": 14, "titleLineHeight": 17, "titlePadding": 7}, "title": ["Functional  N11-specific", "Lung CD8⁺ T Cells (%)"]}
              }
            },
            {
              "data": {"name": "bRsig"},
              "mark": {"type": "text", "fontSize": 16, "baseline": "middle", "dy": 2, "color": "#000"},
              "encoding": {
                "x": {"field": "to", "type": "nominal", "bandPosition": 0, "title": null, "scale": {"type": "band", "paddingInner": 0.3, "paddingOuter": 0.42, "domain": ["CD107a⁺|2° + ISO", "CD107a⁺|2° + Anti-PD-L", "gap1", "IFNγ⁺|2° + ISO", "IFNγ⁺|2° + Anti-PD-L", "gap2", "TNF⁺|2° + ISO", "TNF⁺|2° + Anti-PD-L"]}, "axis": {"ticks": false, "labelFontSize": 15, "labelFontWeight": "normal", "labelPadding": 5, "labelOffset": 13, "labelExpr": "datum.value == 'CD107a⁺|2° + ISO' ? 'CD107a⁺' : datum.value == 'IFNγ⁺|2° + ISO' ? 'IFNγ⁺' : datum.value == 'TNF⁺|2° + ISO' ? 'TNF⁺' : ''"}},
                "y": {"field": "level", "type": "quantitative", "scale": {"domain": [0, 125]}, "axis": {"values": [0, 25, 50, 75, 100, 125], "labelFontSize": 14, "titleFontSize": 14, "titleLineHeight": 17, "titlePadding": 7}, "title": ["Functional  N11-specific", "Lung CD8⁺ T Cells (%)"]},
                "text": {"field": "sig"}
              }
            }
          ]
        }
      ]
    },
    {
      "bounds": "flush",
      "spacing": 0,
      "resolve": {"scale": {"fill": "independent"}, "legend": {"fill": "independent"}},
      "hconcat": [
        {"width": 55, "height": 209.5, "data": {"values": []}, "mark": "point", "encoding": {}},
        {
          "width": 272, "height": 175,
          "title": {"text": "C", "dx": -42, "offset": -7},
          "data": {"name": "cL"},
          "layer": [
            {
              "mark": {"type": "bar", "stroke": "#000", "strokeWidth": 1},
              "encoding": {
                "x": {"field": "slot", "type": "nominal", "title": null, "scale": {"type": "band", "paddingInner": 0, "paddingOuter": 0.7, "domain": ["1⁰ only|TET⁺", "1⁰ only|CD107a⁺", "1⁰ only|IFNγ⁺", "gap1", "2⁰ + ISO|TET⁺", "2⁰ + ISO|CD107a⁺", "2⁰ + ISO|IFNγ⁺", "gap2", "2⁰ + Anti-PD-L|TET⁺", "2⁰ + Anti-PD-L|CD107a⁺", "2⁰ + Anti-PD-L|IFNγ⁺"]}, "axis": {"tickSize": 4, "labelFontSize": 13, "labelPadding": 4, "tickOpacity": {"condition": {"test": "datum.value == '1⁰ only|CD107a⁺' || datum.value == '2⁰ + ISO|CD107a⁺' || datum.value == '2⁰ + Anti-PD-L|CD107a⁺'", "value": 1}, "value": 0}, "labelExpr": "datum.value == '1⁰ only|CD107a⁺' ? '1⁰ only' : datum.value == '2⁰ + ISO|CD107a⁺' ? '2⁰ + ISO' : datum.value == '2⁰ + Anti-PD-L|CD107a⁺' ? '2⁰ + Anti-PD-L' : ''"}},
                "y": {"field": "value", "type": "quantitative", "scale": {"domain": [0, 4]}, "axis": {"values": [0, 1, 2, 3, 4], "labelFontSize": 12, "titleFontSize": 12, "titleLineHeight": 13, "titlePadding": 3}, "title": ["# of F528-specific", "Lung CD8+ T Cells (x 10⁵)"]},
                "fill": {"field": "series", "type": "nominal",
                         "scale": {"domain": ["TET⁺", "CD107a⁺", "IFNγ⁺"], "range": ["#000000", "#808080", "#ffffff"]},
                         "legend": {"orient": "none", "legendX": 271.5, "legendY": 4.5, "title": null, "symbolType": "M-1.7,-1H1.7V1H-1.7Z", "symbolSize": 100, "symbolStrokeColor": "#000", "symbolStrokeWidth": 1, "labelFontSize": 9.5, "labelOffset": 6.5, "rowPadding": -3.5}}
              }
            },
            {
              "mark": {"type": "rule", "color": "#222", "strokeWidth": 1.5},
              "encoding": {
                "x": {"field": "slot", "type": "nominal", "title": null, "scale": {"type": "band", "paddingInner": 0, "paddingOuter": 0.7, "domain": ["1⁰ only|TET⁺", "1⁰ only|CD107a⁺", "1⁰ only|IFNγ⁺", "gap1", "2⁰ + ISO|TET⁺", "2⁰ + ISO|CD107a⁺", "2⁰ + ISO|IFNγ⁺", "gap2", "2⁰ + Anti-PD-L|TET⁺", "2⁰ + Anti-PD-L|CD107a⁺", "2⁰ + Anti-PD-L|IFNγ⁺"]}, "axis": {"tickSize": 4, "labelFontSize": 13, "labelPadding": 4, "tickOpacity": {"condition": {"test": "datum.value == '1⁰ only|CD107a⁺' || datum.value == '2⁰ + ISO|CD107a⁺' || datum.value == '2⁰ + Anti-PD-L|CD107a⁺'", "value": 1}, "value": 0}, "labelExpr": "datum.value == '1⁰ only|CD107a⁺' ? '1⁰ only' : datum.value == '2⁰ + ISO|CD107a⁺' ? '2⁰ + ISO' : datum.value == '2⁰ + Anti-PD-L|CD107a⁺' ? '2⁰ + Anti-PD-L' : ''"}},
                "y": {"field": "value", "type": "quantitative", "scale": {"domain": [0, 4]}, "axis": {"values": [0, 1, 2, 3, 4], "labelFontSize": 12, "titleFontSize": 12, "titleLineHeight": 13, "titlePadding": 3}, "title": ["# of F528-specific", "Lung CD8+ T Cells (x 10⁵)"]},
                "y2": {"field": "upper"}
              }
            },
            {
              "mark": {"type": "tick", "orient": "horizontal", "size": 12, "thickness": 1.5, "color": "#222"},
              "encoding": {
                "x": {"field": "slot", "type": "nominal", "title": null, "scale": {"type": "band", "paddingInner": 0, "paddingOuter": 0.7, "domain": ["1⁰ only|TET⁺", "1⁰ only|CD107a⁺", "1⁰ only|IFNγ⁺", "gap1", "2⁰ + ISO|TET⁺", "2⁰ + ISO|CD107a⁺", "2⁰ + ISO|IFNγ⁺", "gap2", "2⁰ + Anti-PD-L|TET⁺", "2⁰ + Anti-PD-L|CD107a⁺", "2⁰ + Anti-PD-L|IFNγ⁺"]}, "axis": {"tickSize": 4, "labelFontSize": 13, "labelPadding": 4, "tickOpacity": {"condition": {"test": "datum.value == '1⁰ only|CD107a⁺' || datum.value == '2⁰ + ISO|CD107a⁺' || datum.value == '2⁰ + Anti-PD-L|CD107a⁺'", "value": 1}, "value": 0}, "labelExpr": "datum.value == '1⁰ only|CD107a⁺' ? '1⁰ only' : datum.value == '2⁰ + ISO|CD107a⁺' ? '2⁰ + ISO' : datum.value == '2⁰ + Anti-PD-L|CD107a⁺' ? '2⁰ + Anti-PD-L' : ''"}},
                "y": {"field": "upper", "type": "quantitative", "scale": {"domain": [0, 4]}, "axis": {"values": [0, 1, 2, 3, 4], "labelFontSize": 12, "titleFontSize": 12, "titleLineHeight": 13, "titlePadding": 3}, "title": ["# of F528-specific", "Lung CD8+ T Cells (x 10⁵)"]}
              }
            }
          ]
        },
        {"width": 135, "height": 1, "data": {"values": []}, "mark": "point", "encoding": {}},
        {
          "width": 263, "height": 176,
          "data": {"name": "cR"},
          "layer": [
            {
              "mark": {"type": "bar", "stroke": "#000", "strokeWidth": 1},
              "encoding": {
                "x": {"field": "slot", "type": "nominal", "title": null, "scale": {"type": "band", "paddingInner": 0, "paddingOuter": 0.48, "domain": ["1⁰ only|TET⁺", "1⁰ only|CD107a⁺", "1⁰ only|IFNγ⁺", "gap1", "2⁰ + ISO|TET⁺", "2⁰ + ISO|CD107a⁺", "2⁰ + ISO|IFNγ⁺", "gap2", "2⁰ + Anti-PD-L|TET⁺", "2⁰ + Anti-PD-L|CD107a⁺", "2⁰ + Anti-PD-L|IFNγ⁺"]}, "axis": {"tickSize": 4, "labelFontSize": 13, "labelPadding": 4, "tickOpacity": {"condition": {"test": "datum.value == '1⁰ only|CD107a⁺' || datum.value == '2⁰ + ISO|CD107a⁺' || datum.value == '2⁰ + Anti-PD-L|CD107a⁺'", "value": 1}, "value": 0}, "labelExpr": "datum.value == '1⁰ only|CD107a⁺' ? '1⁰ only' : datum.value == '2⁰ + ISO|CD107a⁺' ? '2⁰ + ISO' : datum.value == '2⁰ + Anti-PD-L|CD107a⁺' ? '2⁰ + Anti-PD-L' : ''"}},
                "y": {"field": "value", "type": "quantitative", "scale": {"domain": [0, 4]}, "axis": {"values": [0, 1, 2, 3, 4], "labelFontSize": 12, "titleFontSize": 12, "titleLineHeight": 13, "titlePadding": 3}, "title": ["# of N11-specific", "Lung CD8+ T Cells (x 10⁵)"]},
                "fill": {"field": "series", "type": "nominal",
                         "scale": {"domain": ["TET⁺", "CD107a⁺", "IFNγ⁺"], "range": ["#000000", "#808080", "#ffffff"]},
                         "legend": {"orient": "none", "legendX": 283.5, "legendY": 5.5, "title": null, "symbolType": "M-1.7,-1H1.7V1H-1.7Z", "symbolSize": 100, "symbolStrokeColor": "#000", "symbolStrokeWidth": 1, "labelFontSize": 9.5, "labelOffset": 6.5, "rowPadding": -3.5}}
              }
            },
            {
              "mark": {"type": "rule", "color": "#222", "strokeWidth": 1.5},
              "encoding": {
                "x": {"field": "slot", "type": "nominal", "title": null, "scale": {"type": "band", "paddingInner": 0, "paddingOuter": 0.48, "domain": ["1⁰ only|TET⁺", "1⁰ only|CD107a⁺", "1⁰ only|IFNγ⁺", "gap1", "2⁰ + ISO|TET⁺", "2⁰ + ISO|CD107a⁺", "2⁰ + ISO|IFNγ⁺", "gap2", "2⁰ + Anti-PD-L|TET⁺", "2⁰ + Anti-PD-L|CD107a⁺", "2⁰ + Anti-PD-L|IFNγ⁺"]}, "axis": {"tickSize": 4, "labelFontSize": 13, "labelPadding": 4, "tickOpacity": {"condition": {"test": "datum.value == '1⁰ only|CD107a⁺' || datum.value == '2⁰ + ISO|CD107a⁺' || datum.value == '2⁰ + Anti-PD-L|CD107a⁺'", "value": 1}, "value": 0}, "labelExpr": "datum.value == '1⁰ only|CD107a⁺' ? '1⁰ only' : datum.value == '2⁰ + ISO|CD107a⁺' ? '2⁰ + ISO' : datum.value == '2⁰ + Anti-PD-L|CD107a⁺' ? '2⁰ + Anti-PD-L' : ''"}},
                "y": {"field": "value", "type": "quantitative", "scale": {"domain": [0, 4]}, "axis": {"values": [0, 1, 2, 3, 4], "labelFontSize": 12, "titleFontSize": 12, "titleLineHeight": 13, "titlePadding": 3}, "title": ["# of N11-specific", "Lung CD8+ T Cells (x 10⁵)"]},
                "y2": {"field": "upper"}
              }
            },
            {
              "mark": {"type": "tick", "orient": "horizontal", "size": 12, "thickness": 1.5, "color": "#222"},
              "encoding": {
                "x": {"field": "slot", "type": "nominal", "title": null, "scale": {"type": "band", "paddingInner": 0, "paddingOuter": 0.48, "domain": ["1⁰ only|TET⁺", "1⁰ only|CD107a⁺", "1⁰ only|IFNγ⁺", "gap1", "2⁰ + ISO|TET⁺", "2⁰ + ISO|CD107a⁺", "2⁰ + ISO|IFNγ⁺", "gap2", "2⁰ + Anti-PD-L|TET⁺", "2⁰ + Anti-PD-L|CD107a⁺", "2⁰ + Anti-PD-L|IFNγ⁺"]}, "axis": {"tickSize": 4, "labelFontSize": 13, "labelPadding": 4, "tickOpacity": {"condition": {"test": "datum.value == '1⁰ only|CD107a⁺' || datum.value == '2⁰ + ISO|CD107a⁺' || datum.value == '2⁰ + Anti-PD-L|CD107a⁺'", "value": 1}, "value": 0}, "labelExpr": "datum.value == '1⁰ only|CD107a⁺' ? '1⁰ only' : datum.value == '2⁰ + ISO|CD107a⁺' ? '2⁰ + ISO' : datum.value == '2⁰ + Anti-PD-L|CD107a⁺' ? '2⁰ + Anti-PD-L' : ''"}},
                "y": {"field": "upper", "type": "quantitative", "scale": {"domain": [0, 4]}, "axis": {"values": [0, 1, 2, 3, 4], "labelFontSize": 12, "titleFontSize": 12, "titleLineHeight": 13, "titlePadding": 3}, "title": ["# of N11-specific", "Lung CD8+ T Cells (x 10⁵)"]}
              }
            },
            {
              "data": {"name": "cRnote"},
              "mark": {"type": "text", "fontSize": 11, "baseline": "bottom", "dy": -1, "color": "#000"},
              "encoding": {
                "x": {"field": "at", "type": "nominal", "bandPosition": 0.93, "title": null, "scale": {"type": "band", "paddingInner": 0, "paddingOuter": 0.48, "domain": ["1⁰ only|TET⁺", "1⁰ only|CD107a⁺", "1⁰ only|IFNγ⁺", "gap1", "2⁰ + ISO|TET⁺", "2⁰ + ISO|CD107a⁺", "2⁰ + ISO|IFNγ⁺", "gap2", "2⁰ + Anti-PD-L|TET⁺", "2⁰ + Anti-PD-L|CD107a⁺", "2⁰ + Anti-PD-L|IFNγ⁺"]}, "axis": {"tickSize": 4, "labelFontSize": 13, "labelPadding": 4, "tickOpacity": {"condition": {"test": "datum.value == '1⁰ only|CD107a⁺' || datum.value == '2⁰ + ISO|CD107a⁺' || datum.value == '2⁰ + Anti-PD-L|CD107a⁺'", "value": 1}, "value": 0}, "labelExpr": "datum.value == '1⁰ only|CD107a⁺' ? '1⁰ only' : datum.value == '2⁰ + ISO|CD107a⁺' ? '2⁰ + ISO' : datum.value == '2⁰ + Anti-PD-L|CD107a⁺' ? '2⁰ + Anti-PD-L' : ''"}},
                "y": {"datum": 0, "type": "quantitative", "scale": {"domain": [0, 4]}, "axis": {"values": [0, 1, 2, 3, 4], "labelFontSize": 12, "titleFontSize": 12, "titleLineHeight": 13, "titlePadding": 3}, "title": ["# of N11-specific", "Lung CD8+ T Cells (x 10⁵)"]},
                "text": {"field": "note"}
              }
            },
            {
              "data": {"name": "cRsig1"},
              "mark": {"type": "rule", "strokeDash": [4, 2], "color": "#444", "strokeWidth": 1},
              "encoding": {
                "x": {"field": "from", "type": "nominal", "bandPosition": 0.52, "title": null, "scale": {"type": "band", "paddingInner": 0, "paddingOuter": 0.48, "domain": ["1⁰ only|TET⁺", "1⁰ only|CD107a⁺", "1⁰ only|IFNγ⁺", "gap1", "2⁰ + ISO|TET⁺", "2⁰ + ISO|CD107a⁺", "2⁰ + ISO|IFNγ⁺", "gap2", "2⁰ + Anti-PD-L|TET⁺", "2⁰ + Anti-PD-L|CD107a⁺", "2⁰ + Anti-PD-L|IFNγ⁺"]}, "axis": {"tickSize": 4, "labelFontSize": 13, "labelPadding": 4, "tickOpacity": {"condition": {"test": "datum.value == '1⁰ only|CD107a⁺' || datum.value == '2⁰ + ISO|CD107a⁺' || datum.value == '2⁰ + Anti-PD-L|CD107a⁺'", "value": 1}, "value": 0}, "labelExpr": "datum.value == '1⁰ only|CD107a⁺' ? '1⁰ only' : datum.value == '2⁰ + ISO|CD107a⁺' ? '2⁰ + ISO' : datum.value == '2⁰ + Anti-PD-L|CD107a⁺' ? '2⁰ + Anti-PD-L' : ''"}},
                "x2": {"field": "to", "bandPosition": 0.65},
                "y": {"field": "level", "type": "quantitative", "scale": {"domain": [0, 4]}, "axis": {"values": [0, 1, 2, 3, 4], "labelFontSize": 12, "titleFontSize": 12, "titleLineHeight": 13, "titlePadding": 3}, "title": ["# of N11-specific", "Lung CD8+ T Cells (x 10⁵)"]}
              }
            },
            {
              "data": {"name": "cRsig1"},
              "mark": {"type": "text", "fontSize": 14, "baseline": "middle", "dy": 2, "color": "#000"},
              "encoding": {
                "x": {"field": "at", "type": "nominal", "bandPosition": 0.56, "title": null, "scale": {"type": "band", "paddingInner": 0, "paddingOuter": 0.48, "domain": ["1⁰ only|TET⁺", "1⁰ only|CD107a⁺", "1⁰ only|IFNγ⁺", "gap1", "2⁰ + ISO|TET⁺", "2⁰ + ISO|CD107a⁺", "2⁰ + ISO|IFNγ⁺", "gap2", "2⁰ + Anti-PD-L|TET⁺", "2⁰ + Anti-PD-L|CD107a⁺", "2⁰ + Anti-PD-L|IFNγ⁺"]}, "axis": {"tickSize": 4, "labelFontSize": 13, "labelPadding": 4, "tickOpacity": {"condition": {"test": "datum.value == '1⁰ only|CD107a⁺' || datum.value == '2⁰ + ISO|CD107a⁺' || datum.value == '2⁰ + Anti-PD-L|CD107a⁺'", "value": 1}, "value": 0}, "labelExpr": "datum.value == '1⁰ only|CD107a⁺' ? '1⁰ only' : datum.value == '2⁰ + ISO|CD107a⁺' ? '2⁰ + ISO' : datum.value == '2⁰ + Anti-PD-L|CD107a⁺' ? '2⁰ + Anti-PD-L' : ''"}},
                "y": {"field": "level", "type": "quantitative", "scale": {"domain": [0, 4]}, "axis": {"values": [0, 1, 2, 3, 4], "labelFontSize": 12, "titleFontSize": 12, "titleLineHeight": 13, "titlePadding": 3}, "title": ["# of N11-specific", "Lung CD8+ T Cells (x 10⁵)"]},
                "text": {"field": "sig"}
              }
            },
            {
              "data": {"name": "cRsig2"},
              "mark": {"type": "rule", "strokeDash": [4, 2], "color": "#444", "strokeWidth": 1},
              "encoding": {
                "x": {"field": "from", "type": "nominal", "bandPosition": 0.56, "title": null, "scale": {"type": "band", "paddingInner": 0, "paddingOuter": 0.48, "domain": ["1⁰ only|TET⁺", "1⁰ only|CD107a⁺", "1⁰ only|IFNγ⁺", "gap1", "2⁰ + ISO|TET⁺", "2⁰ + ISO|CD107a⁺", "2⁰ + ISO|IFNγ⁺", "gap2", "2⁰ + Anti-PD-L|TET⁺", "2⁰ + Anti-PD-L|CD107a⁺", "2⁰ + Anti-PD-L|IFNγ⁺"]}, "axis": {"tickSize": 4, "labelFontSize": 13, "labelPadding": 4, "tickOpacity": {"condition": {"test": "datum.value == '1⁰ only|CD107a⁺' || datum.value == '2⁰ + ISO|CD107a⁺' || datum.value == '2⁰ + Anti-PD-L|CD107a⁺'", "value": 1}, "value": 0}, "labelExpr": "datum.value == '1⁰ only|CD107a⁺' ? '1⁰ only' : datum.value == '2⁰ + ISO|CD107a⁺' ? '2⁰ + ISO' : datum.value == '2⁰ + Anti-PD-L|CD107a⁺' ? '2⁰ + Anti-PD-L' : ''"}},
                "x2": {"field": "to", "bandPosition": 0.65},
                "y": {"field": "level", "type": "quantitative", "scale": {"domain": [0, 4]}, "axis": {"values": [0, 1, 2, 3, 4], "labelFontSize": 12, "titleFontSize": 12, "titleLineHeight": 13, "titlePadding": 3}, "title": ["# of N11-specific", "Lung CD8+ T Cells (x 10⁵)"]}
              }
            },
            {
              "data": {"name": "cRsig2"},
              "mark": {"type": "text", "fontSize": 14, "baseline": "middle", "dy": 2, "color": "#000"},
              "encoding": {
                "x": {"field": "at", "type": "nominal", "bandPosition": 0.6, "title": null, "scale": {"type": "band", "paddingInner": 0, "paddingOuter": 0.48, "domain": ["1⁰ only|TET⁺", "1⁰ only|CD107a⁺", "1⁰ only|IFNγ⁺", "gap1", "2⁰ + ISO|TET⁺", "2⁰ + ISO|CD107a⁺", "2⁰ + ISO|IFNγ⁺", "gap2", "2⁰ + Anti-PD-L|TET⁺", "2⁰ + Anti-PD-L|CD107a⁺", "2⁰ + Anti-PD-L|IFNγ⁺"]}, "axis": {"tickSize": 4, "labelFontSize": 13, "labelPadding": 4, "tickOpacity": {"condition": {"test": "datum.value == '1⁰ only|CD107a⁺' || datum.value == '2⁰ + ISO|CD107a⁺' || datum.value == '2⁰ + Anti-PD-L|CD107a⁺'", "value": 1}, "value": 0}, "labelExpr": "datum.value == '1⁰ only|CD107a⁺' ? '1⁰ only' : datum.value == '2⁰ + ISO|CD107a⁺' ? '2⁰ + ISO' : datum.value == '2⁰ + Anti-PD-L|CD107a⁺' ? '2⁰ + Anti-PD-L' : ''"}},
                "y": {"field": "level", "type": "quantitative", "scale": {"domain": [0, 4]}, "axis": {"values": [0, 1, 2, 3, 4], "labelFontSize": 12, "titleFontSize": 12, "titleLineHeight": 13, "titlePadding": 3}, "title": ["# of N11-specific", "Lung CD8+ T Cells (x 10⁵)"]},
                "text": {"field": "sig"}
              }
            }
          ]
        }
      ]
    },
    {
      "bounds": "flush",
      "spacing": 0,
      "resolve": {"scale": {"fill": "independent", "shape": "independent", "size": "independent"}, "legend": {"fill": "independent"}},
      "hconcat": [
        {"width": 137, "height": 1, "data": {"values": []}, "mark": "point", "encoding": {}},
        {
          "width": 125, "height": 162,
          "title": {"text": "D", "dx": -124, "offset": 10},
          "layer": [
            {
              "data": {"name": "dP"},
              "mark": {"type": "point", "filled": true, "stroke": "#000", "strokeWidth": 1, "opacity": 1},
              "encoding": {
                "x": {"field": "group", "type": "nominal", "title": null, "scale": {"type": "band", "domain": ["1° Only", "2° + ISO", "2° + Anti-PD-L"], "paddingInner": 0, "paddingOuter": 0}, "axis": {"labelAngle": -25, "labelAlign": "right", "labelBaseline": "top", "labelFontSize": 15, "tickSize": 5, "labelPadding": 3}},
                "xOffset": {"field": "col", "type": "ordinal", "scale": {"type": "band", "domain": [-8, -7, -6, -5, -4, -3, -2, -1, 0, 1, 2, 3, 4, 5, 6, 7, 8], "range": [0, 41.67], "paddingInner": 0, "paddingOuter": 0}},
                "y": {"field": "mfi", "type": "quantitative", "scale": {"domain": [0, 9000]}, "axis": {"values": [0, 1000, 2000, 3000, 4000, 5000, 6000, 7000, 8000, 9000], "format": "d", "labelFontSize": 15, "titleFontSize": 15, "titleLineHeight": 20, "titlePadding": 10}, "title": ["PD-1 MFI", "F528⁺CD8⁺ T Cells (%)"]},
                "shape": {"field": "group", "type": "nominal", "scale": {"domain": ["1° Only", "2° + ISO", "2° + Anti-PD-L"], "range": ["circle", "square", "triangle-up"]}, "legend": null},
                "fill": {"field": "group", "type": "nominal", "scale": {"domain": ["1° Only", "2° + ISO", "2° + Anti-PD-L"], "range": ["#000000", "#ffffff", "#000000"]}, "legend": null},
                "size": {"field": "group", "type": "ordinal", "scale": {"domain": ["1° Only", "2° + ISO", "2° + Anti-PD-L"], "range": [22, 26, 28]}, "legend": null}
              }
            },
            {
              "data": {"name": "dM"},
              "mark": {"type": "tick", "orient": "horizontal", "size": 35, "thickness": 1.5, "color": "#000"},
              "encoding": {
                "x": {"field": "group", "type": "nominal", "title": null, "scale": {"type": "band", "domain": ["1° Only", "2° + ISO", "2° + Anti-PD-L"], "paddingInner": 0, "paddingOuter": 0}, "axis": {"labelAngle": -25, "labelAlign": "right", "labelBaseline": "top", "labelFontSize": 15, "tickSize": 5, "labelPadding": 3}},
                "y": {"field": "median", "type": "quantitative", "scale": {"domain": [0, 9000]}, "axis": {"values": [0, 1000, 2000, 3000, 4000, 5000, 6000, 7000, 8000, 9000], "format": "d", "labelFontSize": 15, "titleFontSize": 15, "titleLineHeight": 20, "titlePadding": 10}, "title": ["PD-1 MFI", "F528⁺CD8⁺ T Cells (%)"]}
              }
            },
            {
              "data": {"name": "dSig1"},
              "mark": {"type": "rule", "strokeDash": [4, 2], "color": "#444", "strokeWidth": 1},
              "encoding": {
                "x": {"field": "from", "type": "nominal", "bandPosition": 0.7, "title": null, "scale": {"type": "band", "domain": ["1° Only", "2° + ISO", "2° + Anti-PD-L"], "paddingInner": 0, "paddingOuter": 0}, "axis": {"labelAngle": -25, "labelAlign": "right", "labelBaseline": "top", "labelFontSize": 15, "tickSize": 5, "labelPadding": 3}},
                "x2": {"field": "to", "bandPosition": 0.51},
                "y": {"field": "level", "type": "quantitative", "scale": {"domain": [0, 9000]}, "axis": {"values": [0, 1000, 2000, 3000, 4000, 5000, 6000, 7000, 8000, 9000], "format": "d", "labelFontSize": 15, "titleFontSize": 15, "titleLineHeight": 20, "titlePadding": 10}, "title": ["PD-1 MFI", "F528⁺CD8⁺ T Cells (%)"]}
              }
            },
            {
              "data": {"name": "dSig1"},
              "mark": {"type": "text", "fontSize": 16, "baseline": "middle", "dy": 2, "color": "#000"},
              "encoding": {
                "x": {"field": "to", "type": "nominal", "bandPosition": 0.1, "title": null, "scale": {"type": "band", "domain": ["1° Only", "2° + ISO", "2° + Anti-PD-L"], "paddingInner": 0, "paddingOuter": 0}, "axis": {"labelAngle": -25, "labelAlign": "right", "labelBaseline": "top", "labelFontSize": 15, "tickSize": 5, "labelPadding": 3}},
                "y": {"field": "level", "type": "quantitative", "scale": {"domain": [0, 9000]}, "axis": {"values": [0, 1000, 2000, 3000, 4000, 5000, 6000, 7000, 8000, 9000], "format": "d", "labelFontSize": 15, "titleFontSize": 15, "titleLineHeight": 20, "titlePadding": 10}, "title": ["PD-1 MFI", "F528⁺CD8⁺ T Cells (%)"]},
                "text": {"field": "sig"}
              }
            },
            {
              "data": {"name": "dSig2"},
              "mark": {"type": "rule", "strokeDash": [4, 2], "color": "#444", "strokeWidth": 1},
              "encoding": {
                "x": {"field": "from", "type": "nominal", "bandPosition": 0.58, "title": null, "scale": {"type": "band", "domain": ["1° Only", "2° + ISO", "2° + Anti-PD-L"], "paddingInner": 0, "paddingOuter": 0}, "axis": {"labelAngle": -25, "labelAlign": "right", "labelBaseline": "top", "labelFontSize": 15, "tickSize": 5, "labelPadding": 3}},
                "x2": {"field": "to", "bandPosition": 0.47},
                "y": {"field": "level", "type": "quantitative", "scale": {"domain": [0, 9000]}, "axis": {"values": [0, 1000, 2000, 3000, 4000, 5000, 6000, 7000, 8000, 9000], "format": "d", "labelFontSize": 15, "titleFontSize": 15, "titleLineHeight": 20, "titlePadding": 10}, "title": ["PD-1 MFI", "F528⁺CD8⁺ T Cells (%)"]}
              }
            },
            {
              "data": {"name": "dSig2"},
              "mark": {"type": "text", "fontSize": 16, "baseline": "middle", "dy": 2, "color": "#000"},
              "encoding": {
                "x": {"field": "to", "type": "nominal", "bandPosition": 0.06, "title": null, "scale": {"type": "band", "domain": ["1° Only", "2° + ISO", "2° + Anti-PD-L"], "paddingInner": 0, "paddingOuter": 0}, "axis": {"labelAngle": -25, "labelAlign": "right", "labelBaseline": "top", "labelFontSize": 15, "tickSize": 5, "labelPadding": 3}},
                "y": {"field": "level", "type": "quantitative", "scale": {"domain": [0, 9000]}, "axis": {"values": [0, 1000, 2000, 3000, 4000, 5000, 6000, 7000, 8000, 9000], "format": "d", "labelFontSize": 15, "titleFontSize": 15, "titleLineHeight": 20, "titlePadding": 10}, "title": ["PD-1 MFI", "F528⁺CD8⁺ T Cells (%)"]},
                "text": {"field": "sig"}
              }
            }
          ]
        },
        {"width": 222, "height": 1, "data": {"values": []}, "mark": "point", "encoding": {}},
        {
          "width": 239, "height": 179,
          "title": {"text": "E", "dx": -86, "offset": 8},
          "layer": [
            {
              "data": {"name": "eP"},
              "mark": {"type": "point", "filled": true, "stroke": "#000", "strokeWidth": 1.2, "opacity": 1},
              "encoding": {
                "x": {"field": "group", "type": "nominal", "title": null, "scale": {"type": "band", "domain": ["1° Only", "2° + ISO", "2° + Anti-PD-L"], "paddingInner": 0, "paddingOuter": 0}, "axis": {"labelFontSize": 14, "tickSize": 5, "labelPadding": 3}},
                "xOffset": {"field": "col", "type": "ordinal", "scale": {"type": "band", "domain": [-5, -4, -3, -2, -1, 0, 1, 2, 3, 4, 5], "range": [0, 79.67], "paddingInner": 0, "paddingOuter": 0}},
                "y": {"field": "titer", "type": "quantitative", "scale": {"type": "log", "domain": [50, 1000000], "nice": false}, "axis": {"values": [50, 60, 70, 80, 90, 100, 200, 300, 400, 500, 600, 700, 800, 900, 1000, 2000, 3000, 4000, 5000, 6000, 7000, 8000, 9000, 10000, 20000, 30000, 40000, 50000, 60000, 70000, 80000, 90000, 100000, 200000, 300000, 400000, 500000, 600000, 700000, 800000, 900000, 1000000], "labelFontSize": 16, "titleFontSize": 15, "titlePadding": 5, "tickSize": {"condition": {"test": "abs(log(datum.value)/LN10 - round(log(datum.value)/LN10)) < 0.01", "value": 6}, "value": 3}, "labelExpr": "abs(log(datum.value)/LN10 - round(log(datum.value)/LN10)) < 0.01 ? '10' + ['⁰','¹','²','³','⁴','⁵','⁶'][round(log(datum.value)/LN10)] : ''"}, "title": "Virus Titer (pfu/gram)"},
                "shape": {"field": "group", "type": "nominal", "scale": {"domain": ["1° Only", "2° + ISO", "2° + Anti-PD-L"], "range": ["circle", "square", "triangle-up"]}, "legend": null},
                "fill": {"field": "group", "type": "nominal", "scale": {"domain": ["1° Only", "2° + ISO", "2° + Anti-PD-L"], "range": ["#000000", "#ffffff", "#000000"]}, "legend": null},
                "size": {"field": "group", "type": "ordinal", "scale": {"domain": ["1° Only", "2° + ISO", "2° + Anti-PD-L"], "range": [32, 40, 30]}, "legend": null}
              }
            },
            {
              "data": {"name": "eM"},
              "mark": {"type": "tick", "orient": "horizontal", "size": 55, "thickness": 1.5, "color": "#222"},
              "encoding": {
                "x": {"field": "group", "type": "nominal", "title": null, "scale": {"type": "band", "domain": ["1° Only", "2° + ISO", "2° + Anti-PD-L"], "paddingInner": 0, "paddingOuter": 0}, "axis": {"labelFontSize": 14, "tickSize": 5, "labelPadding": 3}},
                "y": {"field": "median", "type": "quantitative", "scale": {"type": "log", "domain": [50, 1000000], "nice": false}, "axis": {"values": [50, 60, 70, 80, 90, 100, 200, 300, 400, 500, 600, 700, 800, 900, 1000, 2000, 3000, 4000, 5000, 6000, 7000, 8000, 9000, 10000, 20000, 30000, 40000, 50000, 60000, 70000, 80000, 90000, 100000, 200000, 300000, 400000, 500000, 600000, 700000, 800000, 900000, 1000000], "labelFontSize": 16, "titleFontSize": 15, "titlePadding": 5, "tickSize": {"condition": {"test": "abs(log(datum.value)/LN10 - round(log(datum.value)/LN10)) < 0.01", "value": 6}, "value": 3}, "labelExpr": "abs(log(datum.value)/LN10 - round(log(datum.value)/LN10)) < 0.01 ? '10' + ['⁰','¹','²','³','⁴','⁵','⁶'][round(log(datum.value)/LN10)] : ''"}, "title": "Virus Titer (pfu/gram)"}
              }
            },
            {
              "data": {"name": "eLimit"},
              "mark": {"type": "rule", "color": "#999", "strokeDash": [1, 1], "strokeWidth": 1},
              "encoding": {
                "y": {"field": "limit", "type": "quantitative", "scale": {"type": "log", "domain": [50, 1000000], "nice": false}, "axis": {"values": [50, 60, 70, 80, 90, 100, 200, 300, 400, 500, 600, 700, 800, 900, 1000, 2000, 3000, 4000, 5000, 6000, 7000, 8000, 9000, 10000, 20000, 30000, 40000, 50000, 60000, 70000, 80000, 90000, 100000, 200000, 300000, 400000, 500000, 600000, 700000, 800000, 900000, 1000000], "labelFontSize": 16, "titleFontSize": 15, "titlePadding": 5, "tickSize": {"condition": {"test": "abs(log(datum.value)/LN10 - round(log(datum.value)/LN10)) < 0.01", "value": 6}, "value": 3}, "labelExpr": "abs(log(datum.value)/LN10 - round(log(datum.value)/LN10)) < 0.01 ? '10' + ['⁰','¹','²','³','⁴','⁵','⁶'][round(log(datum.value)/LN10)] : ''"}, "title": "Virus Titer (pfu/gram)"}
              }
            },
            {
              "data": {"name": "eSig1"},
              "mark": {"type": "rule", "strokeDash": [4, 2], "color": "#777", "strokeWidth": 1},
              "encoding": {
                "x": {"field": "from", "type": "nominal", "bandPosition": 0.48, "title": null, "scale": {"type": "band", "domain": ["1° Only", "2° + ISO", "2° + Anti-PD-L"], "paddingInner": 0, "paddingOuter": 0}, "axis": {"labelFontSize": 14, "tickSize": 5, "labelPadding": 3}},
                "x2": {"field": "to", "bandPosition": 0.52},
                "y": {"field": "level", "type": "quantitative", "scale": {"type": "log", "domain": [50, 1000000], "nice": false}, "axis": {"values": [50, 60, 70, 80, 90, 100, 200, 300, 400, 500, 600, 700, 800, 900, 1000, 2000, 3000, 4000, 5000, 6000, 7000, 8000, 9000, 10000, 20000, 30000, 40000, 50000, 60000, 70000, 80000, 90000, 100000, 200000, 300000, 400000, 500000, 600000, 700000, 800000, 900000, 1000000], "labelFontSize": 16, "titleFontSize": 15, "titlePadding": 5, "tickSize": {"condition": {"test": "abs(log(datum.value)/LN10 - round(log(datum.value)/LN10)) < 0.01", "value": 6}, "value": 3}, "labelExpr": "abs(log(datum.value)/LN10 - round(log(datum.value)/LN10)) < 0.01 ? '10' + ['⁰','¹','²','³','⁴','⁵','⁶'][round(log(datum.value)/LN10)] : ''"}, "title": "Virus Titer (pfu/gram)"}
              }
            },
            {
              "data": {"name": "eSig1"},
              "mark": {"type": "text", "fontSize": 18, "baseline": "middle", "dy": 2, "color": "#000"},
              "encoding": {
                "x": {"field": "mid", "type": "nominal", "bandPosition": 0.48, "title": null, "scale": {"type": "band", "domain": ["1° Only", "2° + ISO", "2° + Anti-PD-L"], "paddingInner": 0, "paddingOuter": 0}, "axis": {"labelFontSize": 14, "tickSize": 5, "labelPadding": 3}},
                "y": {"field": "level", "type": "quantitative", "scale": {"type": "log", "domain": [50, 1000000], "nice": false}, "axis": {"values": [50, 60, 70, 80, 90, 100, 200, 300, 400, 500, 600, 700, 800, 900, 1000, 2000, 3000, 4000, 5000, 6000, 7000, 8000, 9000, 10000, 20000, 30000, 40000, 50000, 60000, 70000, 80000, 90000, 100000, 200000, 300000, 400000, 500000, 600000, 700000, 800000, 900000, 1000000], "labelFontSize": 16, "titleFontSize": 15, "titlePadding": 5, "tickSize": {"condition": {"test": "abs(log(datum.value)/LN10 - round(log(datum.value)/LN10)) < 0.01", "value": 6}, "value": 3}, "labelExpr": "abs(log(datum.value)/LN10 - round(log(datum.value)/LN10)) < 0.01 ? '10' + ['⁰','¹','²','³','⁴','⁵','⁶'][round(log(datum.value)/LN10)] : ''"}, "title": "Virus Titer (pfu/gram)"},
                "text": {"field": "sig"}
              }
            },
            {
              "data": {"name": "eSig2"},
              "mark": {"type": "rule", "strokeDash": [4, 2], "color": "#222", "strokeWidth": 1},
              "encoding": {
                "x": {"field": "from", "type": "nominal", "bandPosition": 0.53, "title": null, "scale": {"type": "band", "domain": ["1° Only", "2° + ISO", "2° + Anti-PD-L"], "paddingInner": 0, "paddingOuter": 0}, "axis": {"labelFontSize": 14, "tickSize": 5, "labelPadding": 3}},
                "x2": {"field": "to", "bandPosition": 0.53},
                "y": {"field": "level", "type": "quantitative", "scale": {"type": "log", "domain": [50, 1000000], "nice": false}, "axis": {"values": [50, 60, 70, 80, 90, 100, 200, 300, 400, 500, 600, 700, 800, 900, 1000, 2000, 3000, 4000, 5000, 6000, 7000, 8000, 9000, 10000, 20000, 30000, 40000, 50000, 60000, 70000, 80000, 90000, 100000, 200000, 300000, 400000, 500000, 600000, 700000, 800000, 900000, 1000000], "labelFontSize": 16, "titleFontSize": 15, "titlePadding": 5, "tickSize": {"condition": {"test": "abs(log(datum.value)/LN10 - round(log(datum.value)/LN10)) < 0.01", "value": 6}, "value": 3}, "labelExpr": "abs(log(datum.value)/LN10 - round(log(datum.value)/LN10)) < 0.01 ? '10' + ['⁰','¹','²','³','⁴','⁵','⁶'][round(log(datum.value)/LN10)] : ''"}, "title": "Virus Titer (pfu/gram)"}
              }
            },
            {
              "data": {"name": "eSig2"},
              "mark": {"type": "text", "fontSize": 18, "baseline": "middle", "dx": 1, "dy": 2, "color": "#000"},
              "encoding": {
                "x": {"field": "to", "type": "nominal", "bandPosition": 0, "title": null, "scale": {"type": "band", "domain": ["1° Only", "2° + ISO", "2° + Anti-PD-L"], "paddingInner": 0, "paddingOuter": 0}, "axis": {"labelFontSize": 14, "tickSize": 5, "labelPadding": 3}},
                "y": {"field": "level", "type": "quantitative", "scale": {"type": "log", "domain": [50, 1000000], "nice": false}, "axis": {"values": [50, 60, 70, 80, 90, 100, 200, 300, 400, 500, 600, 700, 800, 900, 1000, 2000, 3000, 4000, 5000, 6000, 7000, 8000, 9000, 10000, 20000, 30000, 40000, 50000, 60000, 70000, 80000, 90000, 100000, 200000, 300000, 400000, 500000, 600000, 700000, 800000, 900000, 1000000], "labelFontSize": 16, "titleFontSize": 15, "titlePadding": 5, "tickSize": {"condition": {"test": "abs(log(datum.value)/LN10 - round(log(datum.value)/LN10)) < 0.01", "value": 6}, "value": 3}, "labelExpr": "abs(log(datum.value)/LN10 - round(log(datum.value)/LN10)) < 0.01 ? '10' + ['⁰','¹','²','³','⁴','⁵','⁶'][round(log(datum.value)/LN10)] : ''"}, "title": "Virus Titer (pfu/gram)"},
                "text": {"field": "sig"}
              }
            }
          ]
        }
      ]
    }
  ],
  "config": {
    "view": {"stroke": null},
    "font": "Liberation Sans",
    "axis": {
      "grid": false,
      "domainColor": "#000", "domainWidth": 1.5,
      "tickColor": "#000", "tickWidth": 1.5, "tickSize": 5,
      "labelColor": "#000", "titleColor": "#000",
      "labelFont": "Liberation Sans", "titleFont": "Liberation Sans",
      "labelFontWeight": "bold", "titleFontWeight": "bold",
      "titleFontSize": 14, "labelPadding": 2, "labelOverlap": false
    },
    "axisX": {"labelAngle": 0},
    "legend": {"padding": 0, "labelFont": "Liberation Sans", "labelColor": "#000", "symbolOpacity": 1},
    "title": {"font": "Liberation Sans", "fontSize": 35, "fontWeight": "normal", "color": "#000", "anchor": "start", "frame": "group"},
    "text": {"font": "Liberation Sans", "color": "#000"}
  }
}
